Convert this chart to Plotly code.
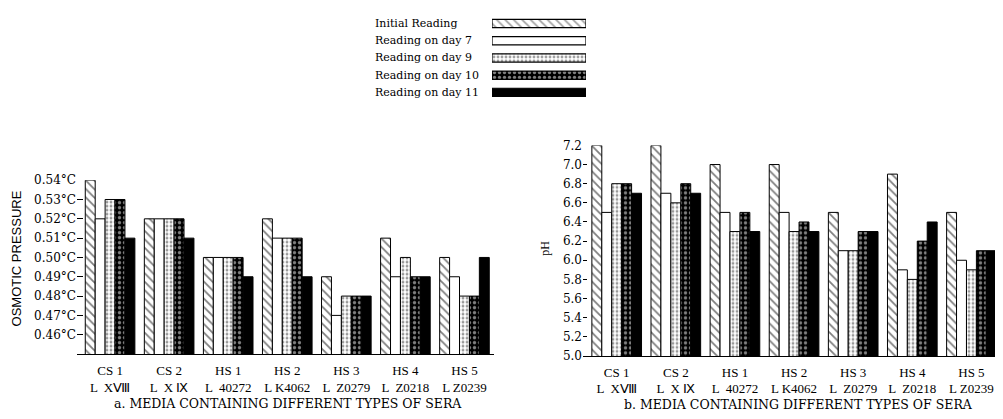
import plotly.graph_objects as go

W, H = 1003, 419
OFF = 8  # default page body margin
FW, FH = W - OFF, H - OFF

series_names = ["Initial Reading", "Reading on day 7", "Reading on day 9",
                "Reading on day 10", "Reading on day 11"]
categories = ["CS 1<br>L  XⅧ", "CS 2<br>L  X Ⅸ", "HS 1<br>L  40272",
              "HS 2<br>L K4062", "HS 3<br>L  Z0279", "HS 4<br>L  Z0218",
              "HS 5<br>L Z0239"]

# Osmotic pressure (°C), per series across the 7 media
osm_initial = [0.54, 0.52, 0.50, 0.52, 0.49, 0.51, 0.50]
osm_day7 = [0.52, 0.52, 0.50, 0.51, 0.47, 0.49, 0.49]
osm_day9 = [0.53, 0.52, 0.50, 0.51, 0.48, 0.50, 0.48]
osm_day10 = [0.53, 0.52, 0.50, 0.51, 0.48, 0.49, 0.48]
osm_day11 = [0.51, 0.51, 0.49, 0.49, 0.48, 0.49, 0.50]

# pH
ph_initial = [7.2, 7.2, 7.0, 7.0, 6.5, 6.9, 6.5]
ph_day7 = [6.5, 6.7, 6.5, 6.5, 6.1, 5.9, 6.0]
ph_day9 = [6.8, 6.6, 6.3, 6.3, 6.1, 5.8, 5.9]
ph_day10 = [6.8, 6.8, 6.5, 6.4, 6.3, 6.2, 6.1]
ph_day11 = [6.7, 6.7, 6.3, 6.3, 6.3, 6.4, 6.1]

osm_ticks = [0.46, 0.47, 0.48, 0.49, 0.50, 0.51, 0.52, 0.53, 0.54]
osm_ticktext = ["0.46°C", "0.47°C", "0.48°C", "0.49°C", "0.50°C",
                "0.51°C", "0.52°C", "0.53°C", "0.54°C"]
ph_ticks = [5.0, 5.2, 5.4, 5.6, 5.8, 6.0, 6.2, 6.4, 6.6, 6.8, 7.0, 7.2]

title_a = "a. MEDIA CONTAINING DIFFERENT TYPES OF SERA"
title_b = "b. MEDIA CONTAINING DIFFERENT TYPES OF SERA"

osm_series = [osm_initial, osm_day7, osm_day9, osm_day10, osm_day11]
ph_series = [ph_initial, ph_day7, ph_day9, ph_day10, ph_day11]

pat_shape = ["\\", "", ".", ".", ""]
pat_fg = ["black", "black", "#333", "white", "black"]
pat_bg = ["white", "white", "white", "black", "black"]
pat_size = [6, 6, 4, 5, 6]
pat_sol = [0.3, 0.3, 0.4, 0.35, 0.3]
fill = ["white", "white", "white", "black", "black"]

SERIF = "Liberation Serif"
fig = go.Figure()


def marker_for(i):
    m = dict(color=fill[i], line=dict(color="black", width=1))
    if pat_shape[i]:
        m["pattern"] = dict(shape=pat_shape[i], fgcolor=pat_fg[i], bgcolor=pat_bg[i],
                            size=pat_size[i], solidity=pat_sol[i])
    return m


for i, (vals, name) in enumerate(zip(osm_series, series_names)):
    fig.add_trace(go.Bar(x=categories, y=vals, name=name, xaxis="x", yaxis="y",
                         marker=marker_for(i), showlegend=False))
for i, (vals, name) in enumerate(zip(ph_series, series_names)):
    fig.add_trace(go.Bar(x=categories, y=vals, name=name, xaxis="x2", yaxis="y2",
                         marker=marker_for(i), showlegend=False))

# legend swatches as a small horizontal bar chart
fig.add_trace(go.Bar(
    y=series_names, x=[1] * len(series_names), orientation="h",
    xaxis="x3", yaxis="y3", width=0.48, showlegend=False,
    marker=dict(
        color=fill,
        line=dict(color="black", width=1.2),
        pattern=dict(shape=pat_shape, fgcolor=pat_fg, bgcolor=pat_bg,
                     size=pat_size, solidity=pat_sol),
    ),
))


def px_x(p):
    return (p - OFF) / FW


def px_y(p):
    return 1 - (p - OFF) / FH


ytick_font = dict(family="DejaVu Serif", size=12, color="black")
cat_font = dict(family=SERIF, size=13, color="black")

fig.update_layout(
    width=FW, height=FH, autosize=False,
    margin=dict(l=0, r=0, t=0, b=0),
    paper_bgcolor="white", plot_bgcolor="white",
    barmode="group", bargap=0.16, bargroupgap=0,
    font=dict(family=SERIF, color="black"),
    xaxis=dict(domain=[px_x(77), px_x(494)], anchor="y", showline=True,
               linecolor="black", linewidth=1, ticks="", showgrid=False,
               tickfont=cat_font, range=[-0.56, 6.5], ticklabelstandoff=4),
    yaxis=dict(domain=[px_y(359), px_y(179)], anchor="x", range=[0.45, 0.54],
               tickvals=osm_ticks, ticktext=osm_ticktext, ticks="inside",
               ticklen=6, tickcolor="black", showgrid=False, showline=False,
               zeroline=False, tickfont=ytick_font),
    xaxis2=dict(domain=[px_x(583), px_x(1001)], anchor="y2", showline=True,
                linecolor="black", linewidth=1, ticks="", showgrid=False,
                tickfont=cat_font, range=[-0.57, 6.5], ticklabelstandoff=4),
    yaxis2=dict(domain=[px_y(361), px_y(143)], anchor="x2", range=[5.0, 7.2],
                tickvals=ph_ticks, tickformat=".1f", ticks="inside",
                ticklen=4, tickcolor="black", showgrid=False, showline=False,
                zeroline=False, tickfont=ytick_font),
    xaxis3=dict(domain=[px_x(492), px_x(586)], anchor="y3", range=[0, 1],
                visible=False),
    yaxis3=dict(domain=[px_y(97), px_y(8)], anchor="x3", autorange="reversed",
                visible=False),
)

for i, name in enumerate(series_names):
    fig.add_annotation(text=name, xref="paper", yref="y3", x=px_x(373), y=name,
                       xanchor="left", yanchor="middle", showarrow=False,
                       font=dict(family="DejaVu Serif", size=11, color="black"))

fig.add_annotation(text="OSMOTIC PRESSURE", xref="paper", yref="paper",
                   x=px_x(16), y=px_y(260), textangle=-90, showarrow=False,
                   xanchor="center", yanchor="middle",
                   font=dict(family="Liberation Sans", size=13, color="black"))
fig.add_annotation(text="pH", xref="paper", yref="paper",
                   x=px_x(545), y=px_y(250), textangle=-90, showarrow=False,
                   xanchor="center", yanchor="middle",
                   font=dict(family=SERIF, size=12, color="black"))
fig.add_annotation(text=title_a, xref="paper", yref="paper",
                   x=px_x(288), y=px_y(410), showarrow=False,
                   xanchor="center", yanchor="middle",
                   font=dict(family="DejaVu Serif", size=12.5, color="black"))
fig.add_annotation(text=title_b, xref="paper", yref="paper",
                   x=px_x(798), y=px_y(411), showarrow=False,
                   xanchor="center", yanchor="middle",
                   font=dict(family="DejaVu Serif", size=12.5, color="black"))

fig.write_html("out.html")
